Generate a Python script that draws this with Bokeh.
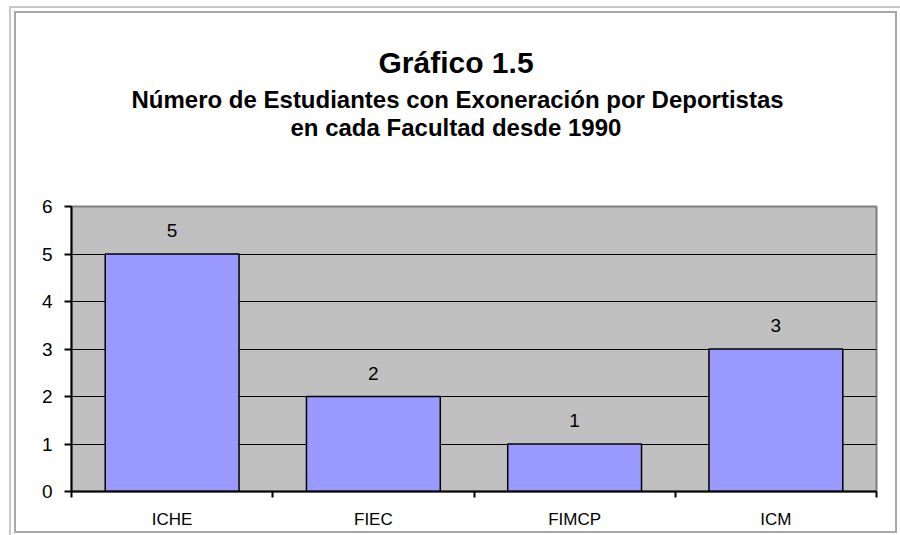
from bokeh.plotting import figure
from bokeh.layouts import column
from bokeh.models import (ColumnDataSource, FixedTicker, Range1d, LabelSet, Title)
from bokeh.core.properties import value
from bokeh.embed import file_html
from bokeh.resources import INLINE

# ---- data ----
categories = ["ICHE", "FIEC", "FIMCP", "ICM"]
values = [5, 2, 1, 3]
y_ticks = [0, 1, 2, 3, 4, 5, 6]
title_main = "Gráfico 1.5"
title_line1 = "Número de Estudiantes con Exoneración por Deportistas"
title_line2 = "en cada Facultad desde 1990"

# chart box: inner border at page x 14..897, y 11..533 (2px border)
OX, OY = 16, 13
W, H = 879, 518
FL, FR, FT, FB = 71 - OX, 876 - OX, 206 - OY, 491 - OY  # frame edges in canvas px
YMAX = 6

xs = [i + 0.5 for i in range(len(categories))]
src = ColumnDataSource(dict(x=xs, top=values, lab=[str(v) for v in values]))

p = figure(width=W, height=H, output_backend="svg", toolbar_location=None,
           x_range=Range1d(0, len(categories)), y_range=Range1d(0, YMAX),
           min_border_left=FL, min_border_right=W - FR,
           min_border_top=FT, min_border_bottom=H - FB)

p.background_fill_color = "#C0C0C0"
p.border_fill_color = "white"
p.outline_line_color = "#808080"
p.outline_line_width = 2

p.vbar(x="x", top="top", width=0.665, bottom=0, source=src,
       fill_color="#9999FF", line_color="black", line_width=1.5)

p.add_layout(LabelSet(x="x", y="top", text="lab", source=src, y_offset=17,
                      text_align="center", text_baseline="bottom",
                      text_font=value("Liberation Sans"), text_font_size=value("19px"),
                      text_color="black"))

# y axis
p.yaxis.ticker = FixedTicker(ticks=y_ticks)
p.yaxis.axis_line_color = "black"
p.yaxis.axis_line_width = 2
p.yaxis.major_tick_out = 7
p.yaxis.major_tick_in = 0
p.yaxis.major_tick_line_width = 2
p.yaxis.minor_tick_line_color = None
p.yaxis.major_label_text_font = "Liberation Sans"
p.yaxis.major_label_text_font_size = "19px"
p.yaxis.major_label_text_color = "black"
p.yaxis.major_label_standoff = 12

# x axis
p.xaxis.ticker = FixedTicker(ticks=xs, minor_ticks=list(range(len(categories) + 1)))
p.xaxis.major_label_overrides = {x: c for x, c in zip(xs, categories)}
p.xaxis.axis_line_color = "black"
p.xaxis.axis_line_width = 2
p.xaxis.major_tick_line_color = None
p.xaxis.major_tick_out = 0
p.xaxis.major_tick_in = 0
p.xaxis.minor_tick_out = 6
p.xaxis.minor_tick_in = 0
p.xaxis.minor_tick_line_width = 2
p.xaxis.minor_tick_line_color = "black"
p.xaxis.major_label_text_font = "Liberation Sans"
p.xaxis.major_label_text_font_size = "17px"
p.xaxis.major_label_text_color = "black"
p.xaxis.major_label_standoff = 12

p.ygrid.ticker = FixedTicker(ticks=y_ticks)
p.ygrid.grid_line_color = "black"
p.ygrid.grid_line_width = 1.2
p.xgrid.grid_line_color = None

# titles stacked outward from the frame; a blank spacer keeps the gap above the plot
p.add_layout(Title(text=" ", standoff=37, text_font="Liberation Sans",
                   text_font_size="24px"), "above")
for txt, size, standoff, off in [(title_line2, "24px", 0, 219),
                                 (title_line1, "24px", -3, 60),
                                 (title_main, "30px", 14, 307)]:
    p.add_layout(Title(text=txt, align="left", offset=off, standoff=standoff,
                       text_font="Liberation Sans", text_font_style="bold",
                       text_font_size=size, text_color="black"), "above")

root = column(p, styles={
    "margin": "11px 0 0 14px",
    "border": "2px solid #A8A8A8",
    "outline": "2px solid #C8C8C8",
    "outline-offset": "3px",
})

open("out.html", "w").write(file_html(root, INLINE))
